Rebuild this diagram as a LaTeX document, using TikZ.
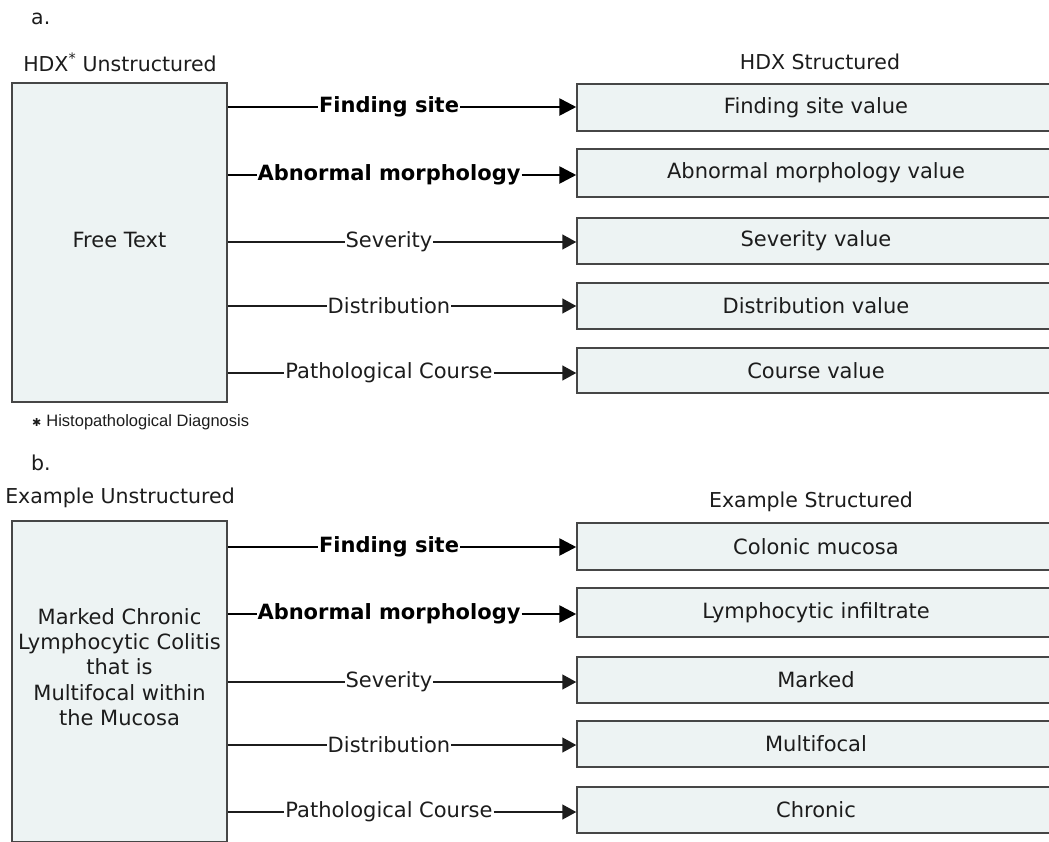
\documentclass[tikz,border=0pt]{standalone}
\usepackage{fontspec}
\setmainfont{DejaVu Sans}
\newfontfamily\arialf{Liberation Sans}
\usetikzlibrary{arrows.meta}
\definecolor{boxfill}{RGB}{237,243,243}
\definecolor{boxline}{RGB}{70,70,70}
\definecolor{txt}{RGB}{28,28,28}
\begin{document}
\begin{tikzpicture}[x=1pt,y=-1pt,
  box/.style={draw=boxline,fill=boxfill,line width=1.5pt,inner sep=0pt},
  val/.style={box,minimum width=478pt,font=\fontsize{21}{25}\selectfont,text=txt},
  lab/.style={inner sep=0.8pt,font=\fontsize{21}{25}\selectfont,text=txt},
  blab/.style={inner sep=0.8pt,font=\fontsize{21}{25}\selectfont\bfseries,text=black},
  thinln/.style={line width=1.5pt,draw=txt},
  boldln/.style={line width=2.7pt,draw=black},
  thintip/.style={-{Triangle[length=14pt,width=15pt]}},
  boldtip/.style={-{Triangle[length=17pt,width=17pt]}},
  head/.style={font=\fontsize{20.5}{24}\selectfont,text=txt,anchor=base,inner sep=0pt}]
\useasboundingbox (0,0) rectangle (1049,841);
\clip (0,0) rectangle (1049,841);

% ---------- part a ----------
\node[head,anchor=base west] (la) at (31,24) {a.};
\node[head] (ha) at (120,71) {HDX\textsuperscript{*} Unstructured};
\node[head] (hsa) at (820,69) {HDX Structured};

\node[box,minimum width=215pt,minimum height=319pt] (fa) at (119.5,242.5) {};
\node[lab] (fat) at (119.5,240) {Free Text};

\node[val,minimum height=47pt] (a1) at (816,107.5) {Finding site value};
\node[val,minimum height=48pt] (a2) at (816,173) {Abnormal morphology value};
\node[val,minimum height=46pt] (a3) at (816,241) {Severity value};
\node[val,minimum height=46pt] (a4) at (816,306) {Distribution value};
\node[val,minimum height=45pt] (a5) at (816,370.5) {Course value};

\node[blab] (la1) at (389,107) {Finding site};
\node[blab] (la2) at (389,175) {Abnormal morphology};
\node[lab] (la3) at (389,242) {Severity};
\node[lab] (la4) at (389,306) {Distribution};
\node[lab] (la5) at (389,373) {Pathological Course};

\draw[boldln] (la1.west -| fa.east) -- (la1.west);
\draw[boldln,boldtip] (la1.east) -- (la1.east -| a1.west);
\draw[boldln] (la2.west -| fa.east) -- (la2.west);
\draw[boldln,boldtip] (la2.east) -- (la2.east -| a2.west);
\draw[thinln] (la3.west -| fa.east) -- (la3.west);
\draw[thinln,thintip] (la3.east) -- (la3.east -| a3.west);
\draw[thinln] (la4.west -| fa.east) -- (la4.west);
\draw[thinln,thintip] (la4.east) -- (la4.east -| a4.west);
\draw[thinln] (la5.west -| fa.east) -- (la5.west);
\draw[thinln,thintip] (la5.east) -- (la5.east -| a5.west);

\node[anchor=base west,inner sep=0pt,text=txt] (fn) at (32,426)
  {{\fontsize{11}{12}\selectfont ✱}\hspace{5pt}{\arialf\fontsize{16.5}{19}\selectfont Histopathological Diagnosis}};

% ---------- part b ----------
\node[head,anchor=base west] (lb) at (31,470) {b.};
\node[head] (hb) at (120,503) {Example Unstructured};
\node[head] (hsb) at (811,507) {Example Structured};

\node[box,minimum width=215pt,minimum height=321pt] (fb) at (119.5,681.5) {};
\node[lab,align=center,font=\fontsize{21}{25.3}\selectfont] (fbt) at (119.5,667)
  {Marked Chronic\\Lymphocytic Colitis\\that is\\Multifocal within\\the Mucosa};

\node[val,minimum height=47pt] (b1) at (816,546.5) {Colonic mucosa};
\node[val,minimum height=49pt] (b2) at (816,612.5) {Lymphocytic infiltrate};
\node[val,minimum height=46pt] (b3) at (816,680) {Marked};
\node[val,minimum height=46pt] (b4) at (816,744) {Multifocal};
\node[val,minimum height=46pt] (b5) at (816,810) {Chronic};

\node[blab] (lb1) at (389,547) {Finding site};
\node[blab] (lb2) at (389,614) {Abnormal morphology};
\node[lab] (lb3) at (389,682) {Severity};
\node[lab] (lb4) at (389,745) {Distribution};
\node[lab] (lb5) at (389,812) {Pathological Course};

\draw[boldln] (lb1.west -| fb.east) -- (lb1.west);
\draw[boldln,boldtip] (lb1.east) -- (lb1.east -| b1.west);
\draw[boldln] (lb2.west -| fb.east) -- (lb2.west);
\draw[boldln,boldtip] (lb2.east) -- (lb2.east -| b2.west);
\draw[thinln] (lb3.west -| fb.east) -- (lb3.west);
\draw[thinln,thintip] (lb3.east) -- (lb3.east -| b3.west);
\draw[thinln] (lb4.west -| fb.east) -- (lb4.west);
\draw[thinln,thintip] (lb4.east) -- (lb4.east -| b4.west);
\draw[thinln] (lb5.west -| fb.east) -- (lb5.west);
\draw[thinln,thintip] (lb5.east) -- (lb5.east -| b5.west);
\end{tikzpicture}
\end{document}
